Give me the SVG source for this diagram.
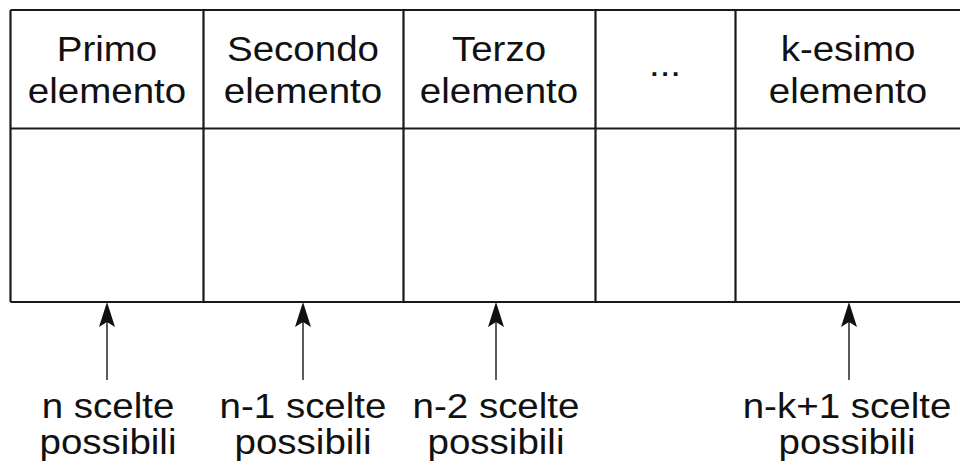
<svg xmlns="http://www.w3.org/2000/svg" width="960" height="467" viewBox="0 0 960 467">
  <style>
    .grid { fill: none; stroke: #1a1a1a; stroke-width: 2.2; }
    .lbl { font-family: "Liberation Sans", Arial, sans-serif; font-size: 35px; fill: #111; text-anchor: middle; }
    .arrow { stroke: #333; stroke-width: 1.6; fill: none; }
    .head { fill: #111; stroke: none; }
  </style>
  <defs>
    <!-- notched arrowhead, tip at origin pointing up -->
    <path id="tip" class="head" d="M0,0 L8,25 L0,20 L-8,25 Z"/>
  </defs>

  <rect width="960" height="467" fill="#ffffff"/>

  <!-- table frame -->
  <g id="table">
    <path class="grid" d="M10.5,10 H962 M10.5,128.5 H962 M10.5,302 H962 M10.5,10 V302"/>
    <path class="grid" d="M203.5,10 V302 M403.5,10 V302 M595.5,10 V302 M735.5,10 V302"/>
  </g>

  <!-- column headers (glyphs slightly widened) -->
  <g id="col1">
    <text class="lbl" transform="translate(107,61) scale(1.1,1)">Primo</text>
    <text class="lbl" transform="translate(107,103) scale(1.1,1)">elemento</text>
  </g>
  <g id="col2">
    <text class="lbl" transform="translate(303,61) scale(1.1,1)">Secondo</text>
    <text class="lbl" transform="translate(303,103) scale(1.1,1)">elemento</text>
  </g>
  <g id="col3">
    <text class="lbl" transform="translate(499,61) scale(1.1,1)">Terzo</text>
    <text class="lbl" transform="translate(499,103) scale(1.1,1)">elemento</text>
  </g>
  <g id="col4">
    <text class="lbl" transform="translate(665,76) scale(1.1,1)">...</text>
  </g>
  <g id="col5">
    <text class="lbl" transform="translate(848,61) scale(1.1,1)">k-esimo</text>
    <text class="lbl" transform="translate(848,103) scale(1.1,1)">elemento</text>
  </g>

  <!-- arrows pointing at each chosen cell -->
  <g id="connectors">
    <line class="arrow" x1="107" y1="318" x2="107" y2="380"/>
    <use href="#tip" x="107" y="302"/>
    <line class="arrow" x1="303" y1="318" x2="303" y2="380"/>
    <use href="#tip" x="303" y="302"/>
    <line class="arrow" x1="496" y1="318" x2="496" y2="380"/>
    <use href="#tip" x="496" y="302"/>
    <line class="arrow" x1="849" y1="318" x2="849" y2="380"/>
    <use href="#tip" x="849" y="302"/>
  </g>

  <!-- choice counts -->
  <g id="c1">
    <text class="lbl" transform="translate(108,418) scale(1.1,1)">n scelte</text>
    <text class="lbl" transform="translate(108,454) scale(1.1,1)">possibili</text>
  </g>
  <g id="c2">
    <text class="lbl" transform="translate(303,418) scale(1.1,1)">n-1 scelte</text>
    <text class="lbl" transform="translate(303,454) scale(1.1,1)">possibili</text>
  </g>
  <g id="c3">
    <text class="lbl" transform="translate(496,418) scale(1.1,1)">n-2 scelte</text>
    <text class="lbl" transform="translate(496,454) scale(1.1,1)">possibili</text>
  </g>
  <g id="ck">
    <text class="lbl" transform="translate(847,418) scale(1.1,1)">n-k+1 scelte</text>
    <text class="lbl" transform="translate(847,454) scale(1.1,1)">possibili</text>
  </g>
</svg>
